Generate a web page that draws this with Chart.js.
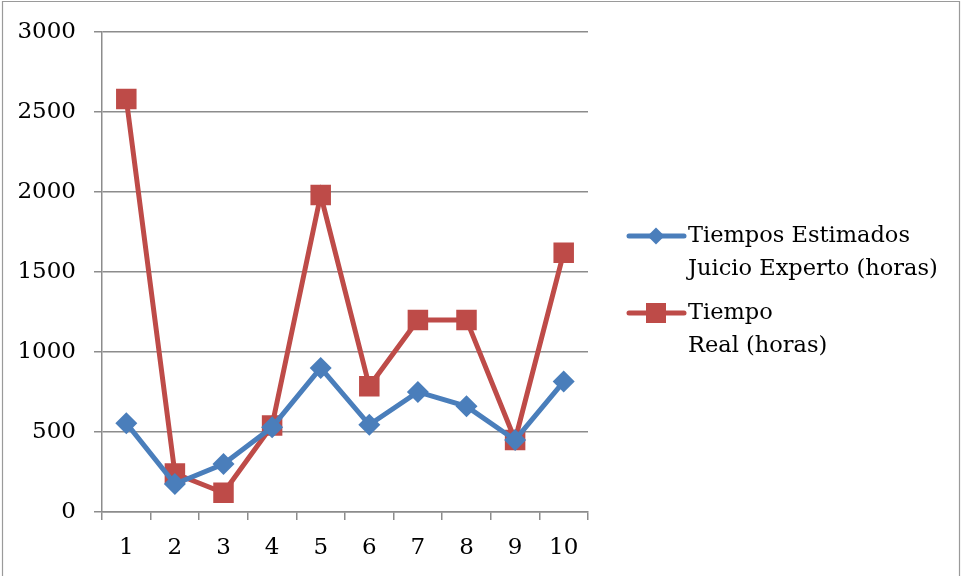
<!DOCTYPE html>
<html>
<head>
<meta charset="utf-8">
<script src="https://cdn.jsdelivr.net/npm/chart.js@4/dist/chart.umd.min.js"></script>
<style>
  html, body { margin: 0; padding: 0; background: #fff; }
  #wrap { position: relative; width: 961px; height: 576px; }
</style>
</head>
<body>
<div id="wrap"><canvas id="c" width="961" height="576"></canvas></div>
<script>
// Project numbers 1..10
const categories = ['1', '2', '3', '4', '5', '6', '7', '8', '9', '10'];
// Hours estimated by expert judgement
const estimados = [555, 175, 300, 530, 900, 545, 750, 660, 450, 815];
// Hours actually spent
const reales = [2580, 240, 120, 540, 1980, 785, 1200, 1200, 450, 1620];
const yTicks = [0, 500, 1000, 1500, 2000, 2500, 3000];

const seriesNames = [
  ['Tiempos Estimados', 'Juicio Experto (horas)'],
  ['Tiempo', 'Real (horas)']
];

const BLUE = '#4A7EBB';
const RED = '#BE4B48';
const GRID = '#8c8c8c';
const FONT = '"DejaVu Serif", serif';

// Frame around the whole drawing
const framePlugin = {
  id: 'frame',
  afterDraw(chart) {
    const ctx = chart.ctx;
    ctx.save();
    ctx.strokeStyle = '#9a9a9a';
    ctx.lineWidth = 1.2;
    ctx.beginPath();
    ctx.moveTo(2.5, 576);
    ctx.lineTo(2.5, 1.5);
    ctx.lineTo(959.5, 1.5);
    ctx.lineTo(959.5, 576);
    ctx.stroke();
    ctx.restore();
  }
};

// Legend to the right of the plot, with wrapped series names
const sideLegend = {
  id: 'sideLegend',
  afterDraw(chart) {
    const ctx = chart.ctx;
    ctx.save();
    ctx.font = '22.5px ' + FONT;
    ctx.textBaseline = 'middle';
    const x0 = 629, x1 = 684, tx = 688;
    const rows = [236, 313];
    chart.data.datasets.forEach((ds, i) => {
      const y = rows[i];
      ctx.strokeStyle = ds.borderColor;
      ctx.lineWidth = 5;
      ctx.lineCap = 'round';
      ctx.beginPath();
      ctx.moveTo(x0, y);
      ctx.lineTo(x1, y);
      ctx.stroke();
      ctx.fillStyle = ds.borderColor;
      if (ds.pointStyle === 'rectRot') {
        ctx.beginPath();
        ctx.moveTo(656, y - 8.5);
        ctx.lineTo(664.5, y);
        ctx.lineTo(656, y + 8.5);
        ctx.lineTo(647.5, y);
        ctx.closePath();
        ctx.fill();
      } else {
        ctx.fillRect(646, y - 10, 20, 20);
      }
      ctx.fillStyle = '#000';
      seriesNames[i].forEach((line, k) => {
        ctx.fillText(line, tx, y + k * 33);
      });
    });
    ctx.restore();
  }
};

new Chart(document.getElementById('c'), {
  type: 'line',
  data: {
    labels: categories,
    datasets: [
      {
        label: seriesNames[0].join(' '),
        data: estimados,
        borderColor: BLUE,
        backgroundColor: BLUE,
        borderWidth: 5,
        pointStyle: 'rectRot',
        pointRadius: 11,
        pointHoverRadius: 11,
        pointBorderWidth: 0,
        tension: 0
      },
      {
        label: seriesNames[1].join(' '),
        data: reales,
        borderColor: RED,
        backgroundColor: RED,
        borderWidth: 5,
        pointStyle: 'rect',
        pointRadius: 14.5,
        pointHoverRadius: 14.5,
        pointBorderWidth: 0,
        tension: 0
      }
    ]
  },
  options: {
    responsive: false,
    animation: false,
    events: [],
    layout: { padding: { left: 0, right: 373, top: 31, bottom: 0 } },
    plugins: {
      legend: { display: false },
      tooltip: { enabled: false }
    },
    scales: {
      x: {
        type: 'category',
        offset: true,
        afterFit(s) { s.height = 64; },
        grid: {
          offset: true,
          drawOnChartArea: false,
          drawTicks: true,
          tickLength: 8,
          color: GRID,
          lineWidth: 1.5
        },
        border: { display: true, color: GRID, width: 1.5 },
        ticks: {
          color: '#000',
          font: { family: FONT, size: 23 },
          padding: 14,
          maxRotation: 0,
          autoSkip: false
        }
      },
      y: {
        min: 0,
        max: 3000,
        afterFit(s) { s.width = 102; },
        afterBuildTicks(s) { s.ticks = yTicks.map(v => ({ value: v })); },
        grid: {
          color: GRID,
          lineWidth: 1.5,
          drawTicks: true,
          tickLength: 8
        },
        border: { display: true, color: GRID, width: 1.5 },
        ticks: {
          color: '#000',
          font: { family: FONT, size: 23 },
          padding: 18,
          callback: v => String(v)
        }
      }
    }
  },
  plugins: [framePlugin, sideLegend]
});
</script>
</body>
</html>
